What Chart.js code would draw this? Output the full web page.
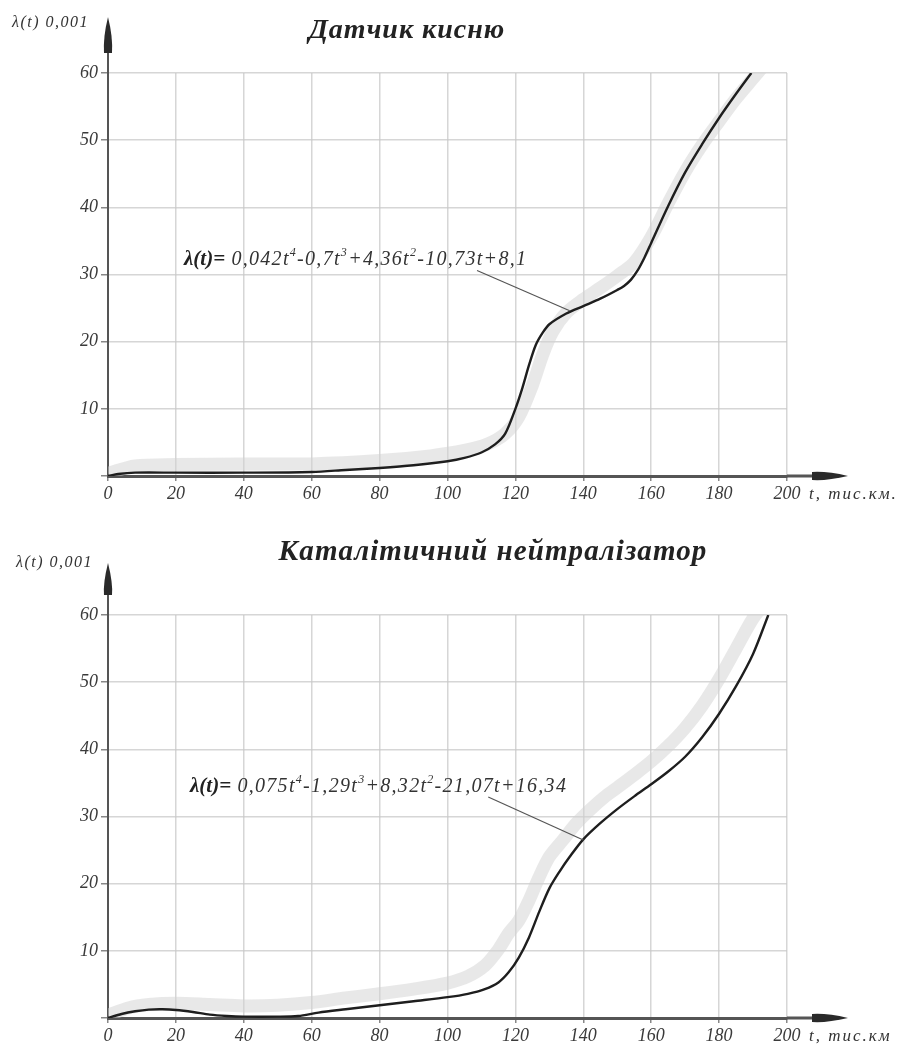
<!DOCTYPE html>
<html>
<head>
<meta charset="utf-8">
<script src="https://cdn.jsdelivr.net/npm/chart.js@4.4.0/dist/chart.umd.min.js"></script>
<style>
    body { margin: 0; background: #fff; width: 901px; height: 1053px; position: relative; overflow: hidden; font-family: 'Liberation Serif', 'DejaVu Serif', serif; }
    .box { position: absolute; left: 0; width: 901px; }
    #box1 { top: 0; height: 540px; }
    #box2 { top: 540px; height: 513px; }
    .lbl { position: absolute; font-style: italic; color: #333; white-space: nowrap; line-height: 1; }
    .title { position: absolute; font-style: italic; font-weight: bold; color: #222; white-space: nowrap; line-height: 1; transform: translateX(-50%); }
    .formula { position: absolute; font-style: italic; color: #333; white-space: nowrap; line-height: 1; font-size: 20px; letter-spacing: 1.3px; }
    .formula b { font-size: 21px; color: #222; letter-spacing: 0; }
    .formula sup { font-size: 12px; vertical-align: 9px; }
</style>
</head>
<body>
<div class="box" id="box1"><canvas id="chartTop" width="901" height="540"></canvas></div>
<div class="box" id="box2"><canvas id="chartBottom" width="901" height="513"></canvas></div>

<div class="title" style="left:407px;top:15px;font-size:28px;letter-spacing:1px;">Датчик кисню</div>
<div class="title" style="left:493px;top:536px;font-size:29px;letter-spacing:1.1px;">Каталітичний нейтралізатор</div>

<div class="lbl" style="left:12px;top:14px;font-size:16px;letter-spacing:1.5px;">λ(t) 0,001</div>
<div class="lbl" style="left:16px;top:554px;font-size:16px;letter-spacing:1.5px;">λ(t) 0,001</div>
<div class="lbl" style="left:809px;top:485px;font-size:17px;letter-spacing:2px;">t, тис.км.</div>
<div class="lbl" style="left:809px;top:1027px;font-size:17px;letter-spacing:2px;">t, тис.км</div>

<div class="formula" style="left:184px;top:246px;"><b>λ(t)=</b> 0,042t<sup>4</sup>-0,7t<sup>3</sup>+4,36t<sup>2</sup>-10,73t+8,1</div>
<div class="formula" style="left:190px;top:773px;"><b>λ(t)=</b> 0,075t<sup>4</sup>-1,29t<sup>3</sup>+8,32t<sup>2</sup>-21,07t+16,34</div>

<script>
// осі
const xTicks = [0, 20, 40, 60, 80, 100, 120, 140, 160, 180, 200];
const yTicks = [0, 10, 20, 30, 40, 50, 60];

// датчик кисню
const tOxygen = [0, 3, 8, 20, 40, 60, 70, 80, 90, 100, 105, 110, 114, 117, 120, 122, 124, 126, 128, 130, 135, 140, 145, 150, 152, 154, 156, 158, 160, 165, 170, 175, 180, 185, 189.5];
const lambdaOxygen = [0, 0.3, 0.5, 0.5, 0.5, 0.6, 0.9, 1.2, 1.6, 2.2, 2.7, 3.5, 4.7, 6.3, 10, 13, 16.5, 19.5, 21.3, 22.6, 24.2, 25.3, 26.4, 27.7, 28.3, 29.2, 30.6, 32.5, 34.7, 40.2, 45.2, 49.4, 53.3, 56.9, 60];
const tOxygenBand = [0, 8, 20, 40, 60, 80, 95, 105, 112, 117, 121, 125, 128, 131, 135, 140, 145, 150, 155, 160, 165, 170, 175, 180, 185, 190, 193];
const oxygenBand = [0.4, 1.5, 1.7, 1.8, 1.8, 2.3, 3.0, 3.8, 4.8, 6.3, 8.8, 13.5, 18, 21.5, 24.3, 26.3, 28, 29.8, 31.8, 35.6, 40.6, 45.3, 49.3, 52.8, 56.2, 59.2, 61];

// каталітичний нейтралізатор
const tCatalyst = [0, 4, 8, 12, 16, 20, 25, 30, 35, 40, 50, 56, 62, 70, 80, 90, 100, 106, 111, 115, 118, 121, 124, 127, 130, 133, 136, 140, 145, 150, 155, 160, 165, 170, 175, 180, 185, 190, 194.5];
const lambdaCatalyst = [0, 0.6, 1.0, 1.25, 1.3, 1.2, 0.9, 0.5, 0.3, 0.2, 0.2, 0.3, 0.8, 1.3, 1.9, 2.5, 3.1, 3.6, 4.3, 5.3, 6.8, 9, 12, 15.8, 19.3, 21.8, 24, 26.6, 29, 31.1, 33, 34.8, 36.7, 38.9, 41.8, 45.3, 49.4, 54.2, 60];
const tCatalystBand = [0, 6, 12, 20, 30, 40, 50, 60, 70, 80, 90, 100, 106, 111, 115, 118, 121, 124, 127, 130, 134, 138, 142, 146, 150, 155, 160, 165, 170, 175, 180, 185, 190, 194];
const catalystBand = [0.4, 1.5, 2.0, 2.2, 2.0, 1.8, 1.9, 2.3, 3.0, 3.6, 4.3, 5.2, 6.2, 7.8, 10.2, 12.6, 14.5, 17.5, 21, 24, 26.5, 29, 31, 32.8, 34.3, 36.2, 38.2, 40.5, 43.2, 46.5, 50.5, 55, 59.5, 62];

// виноски до формул (t, λ)
const leaderOxygen = [[108.7, 30.6], [136, 24.6]];
const leaderCatalyst = [[112, 32.9], [140, 26.5]];

const tickFont = { family: "'Liberation Serif', serif", style: 'italic', size: 18 };
const gridColor = 'rgba(200, 200, 200, 0.75)';

const toPoints = (xs, ys) => xs.map((x, i) => ({ x: x, y: ys[i] }));

const axisArrows = {
    id: 'axisArrows',
    afterDraw(chart, args, opts) {
        const { ctx, chartArea: a } = chart;
        ctx.save();
        ctx.strokeStyle = '#555';
        ctx.fillStyle = '#2a2a2a';
        // x
        ctx.lineWidth = 3;
        ctx.beginPath();
        ctx.moveTo(a.right, a.bottom);
        ctx.lineTo(a.right + 35, a.bottom);
        ctx.stroke();
        ctx.beginPath();
        ctx.moveTo(a.right + 61, a.bottom);
        ctx.quadraticCurveTo(a.right + 40, a.bottom - 5, a.right + 25, a.bottom - 4);
        ctx.lineTo(a.right + 25, a.bottom + 4);
        ctx.quadraticCurveTo(a.right + 40, a.bottom + 5, a.right + 61, a.bottom);
        ctx.fill();
        // y
        ctx.lineWidth = 2;
        ctx.beginPath();
        ctx.moveTo(a.left, a.top);
        ctx.lineTo(a.left, a.top - 25);
        ctx.stroke();
        const tip = a.top - opts.tip;
        ctx.beginPath();
        ctx.moveTo(a.left, tip);
        ctx.quadraticCurveTo(a.left - 5, tip + 20, a.left - 4, a.top - 20);
        ctx.lineTo(a.left + 4, a.top - 20);
        ctx.quadraticCurveTo(a.left + 5, tip + 20, a.left, tip);
        ctx.fill();
        ctx.restore();
    }
};

const leaderLine = {
    id: 'leaderLine',
    afterDatasetsDraw(chart, args, opts) {
        const { ctx, scales: { x, y } } = chart;
        const [p0, p1] = opts.points;
        ctx.save();
        ctx.strokeStyle = '#555';
        ctx.lineWidth = 1.2;
        ctx.beginPath();
        ctx.moveTo(x.getPixelForValue(p0[0]), y.getPixelForValue(p0[1]));
        ctx.lineTo(x.getPixelForValue(p1[0]), y.getPixelForValue(p1[1]));
        ctx.stroke();
        ctx.restore();
    }
};

function makeChart(id, t, vals, bandT, bandVals, leader, area, canvasH, tip) {
    const ctx = document.getElementById(id).getContext('2d');
    return new Chart(ctx, {
        type: 'line',
        data: {
            datasets: [{
                data: toPoints(t, vals),
                borderColor: '#1e1e1e',
                borderWidth: 2.4,
                pointRadius: 0,
                tension: 0.3,
                order: 1
            }, {
                data: toPoints(bandT, bandVals),
                borderColor: 'rgba(210, 210, 210, 0.5)',
                borderWidth: 13,
                pointRadius: 0,
                tension: 0.3,
                order: 2
            }]
        },
        options: {
            responsive: false,
            animation: false,
            events: [],
            layout: {
                padding: { left: 0, right: 114, top: area.top, bottom: canvasH - area.bottom - 40 }
            },
            plugins: {
                legend: { display: false },
                tooltip: { enabled: false },
                axisArrows: { tip: tip },
                leaderLine: { points: leader }
            },
            scales: {
                x: {
                    type: 'linear',
                    min: 0,
                    max: 200,
                    afterBuildTicks: s => { s.ticks = xTicks.map(v => ({ value: v })); },
                    afterFit: s => { s.height = 40; },
                    ticks: { font: tickFont, color: '#3a3a3a', padding: 2, maxRotation: 0, autoSkip: false },
                    grid: { color: gridColor, lineWidth: 1.5, tickLength: 5, tickColor: '#888' },
                    border: { color: '#555', width: 3 }
                },
                y: {
                    min: 0,
                    max: 60,
                    afterBuildTicks: s => { s.ticks = yTicks.map(v => ({ value: v })); },
                    afterFit: s => { s.width = 108; },
                    ticks: { font: tickFont, color: '#3a3a3a', padding: 3, callback: v => v === 0 ? '' : v },
                    grid: { color: gridColor, lineWidth: 1.5, tickLength: 7, tickColor: '#888' },
                    border: { color: '#555', width: 2 }
                }
            }
        },
        plugins: [axisArrows, leaderLine]
    });
}

makeChart('chartTop', tOxygen, lambdaOxygen, tOxygenBand, oxygenBand, leaderOxygen, { top: 73, bottom: 476 }, 540, 56);
makeChart('chartBottom', tCatalyst, lambdaCatalyst, tCatalystBand, catalystBand, leaderCatalyst, { top: 75, bottom: 478 }, 513, 52);
</script>
</body>
</html>
